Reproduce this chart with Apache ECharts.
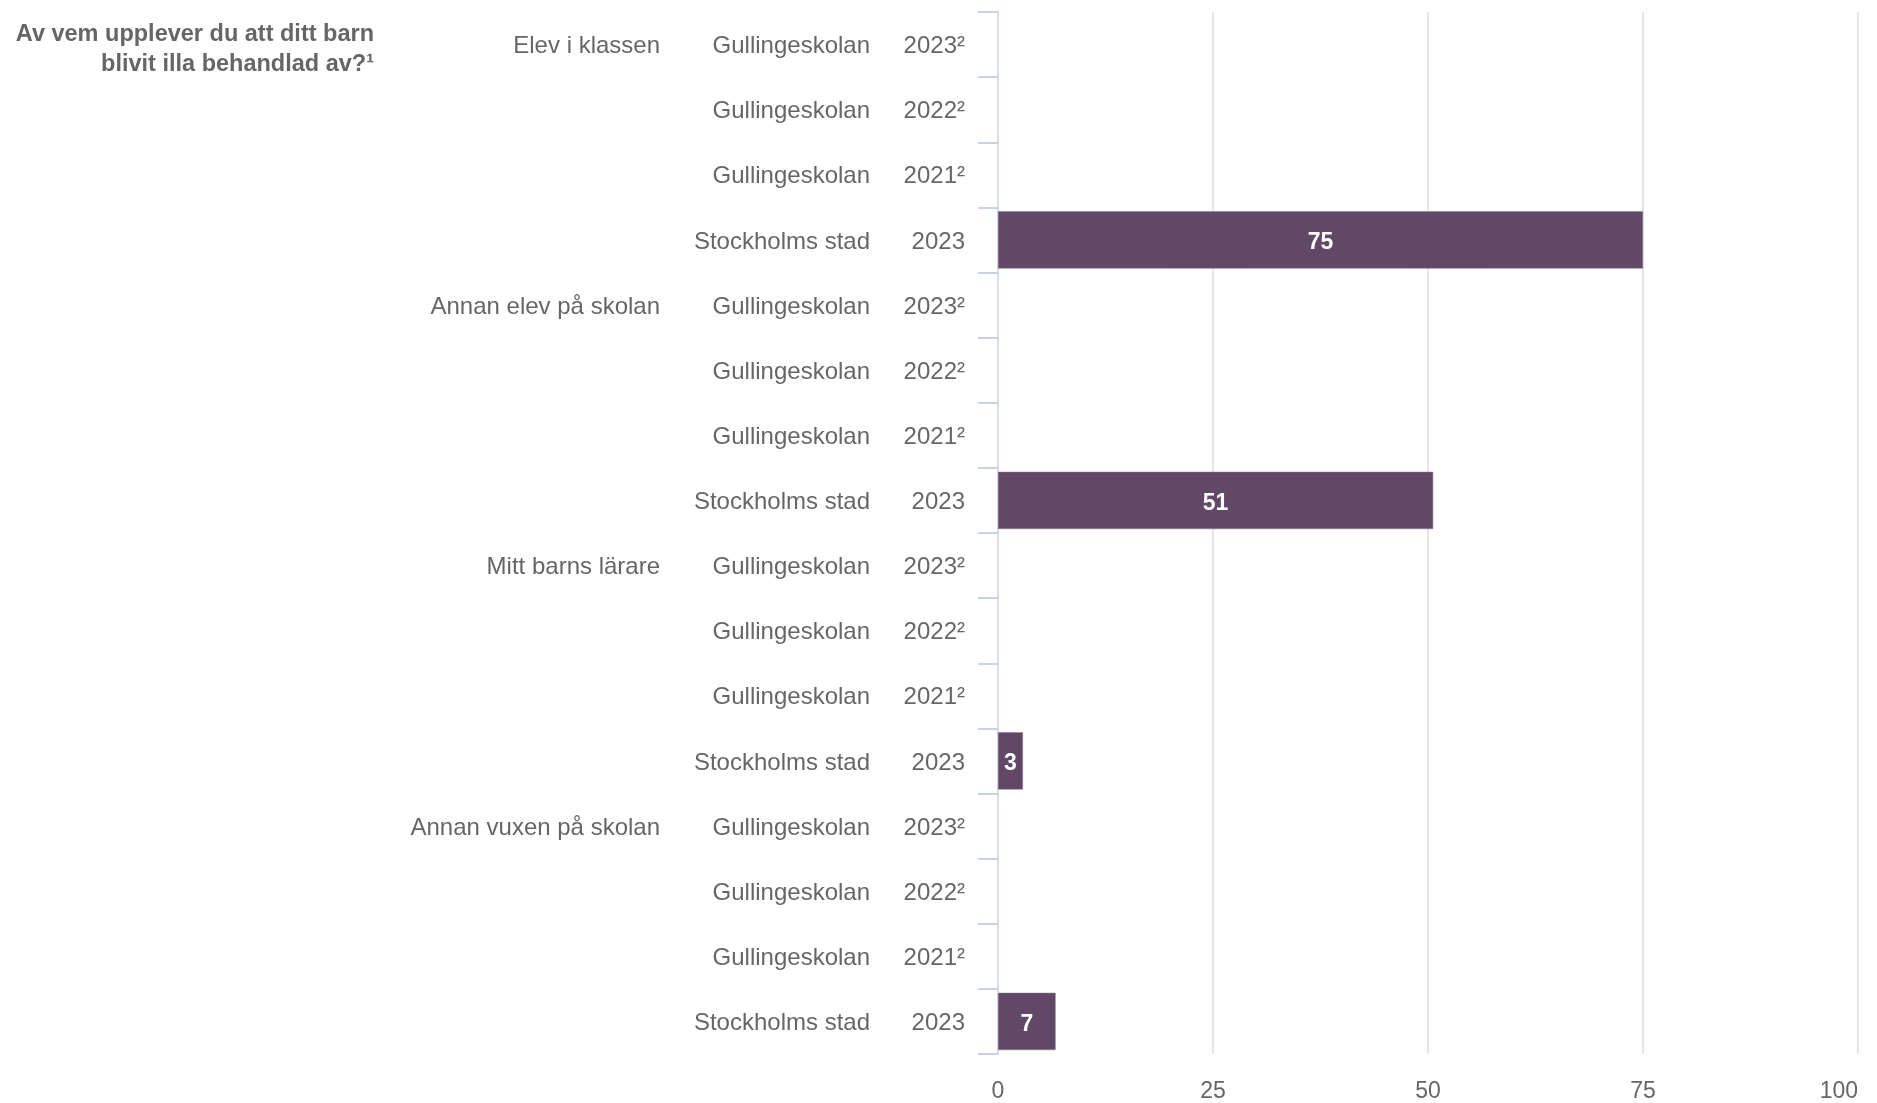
<!DOCTYPE html>
<html>
<head>
<meta charset="utf-8">
<script src="https://cdn.jsdelivr.net/npm/echarts@6/dist/echarts.min.js"></script>
<style>
  html, body { margin: 0; padding: 0; background: #fff; }
  #main { width: 1877px; height: 1103px; }
</style>
</head>
<body>
<div id="main"></div>
<script>
// frågor (grupper)
var groups = ['Elev i klassen', 'Annan elev på skolan', 'Mitt barns lärare', 'Annan vuxen på skolan'];
// rader inom varje grupp
var schools = ['Gullingeskolan', 'Gullingeskolan', 'Gullingeskolan', 'Stockholms stad'];
var years = ['2023²', '2022²', '2021²', '2023'];
// värden per grupp (null = inget värde visas)
var values = [
  [null, null, null, 75],
  [null, null, null, 50.6],
  [null, null, null, 2.9],
  [null, null, null, 6.7]
];
var xTicks = [0, 25, 50, 75, 100];

var cats = [];
var data = [];
for (var i = 0; i < groups.length; i++) {
  for (var j = 0; j < schools.length; j++) {
    cats.push((j == 0 ? groups[i] : '') + '|' + schools[j] + '|' + years[j]);
    data.push(values[i][j]);
  }
}

var font = "'Liberation Sans', Arial, sans-serif";
var myChart = echarts.init(document.getElementById('main'));

var option = {
  animation: false,
  textStyle: { fontFamily: font },
  graphic: [{
    type: 'text',
    x: 374,
    y: 20,
    style: {
      text: 'Av vem upplever du att ditt barn\nblivit illa behandlad av?¹',
      font: 'bold 23.5px ' + font,
      fill: '#666666',
      lineHeight: 30,
      align: 'right',
      verticalAlign: 'top'
    }
  }],
  grid: { left: 998, right: 19, top: 12, bottom: 44 },
  xAxis: {
    type: 'value',
    min: xTicks[0],
    max: xTicks[xTicks.length - 1],
    interval: 25,
    axisLine: { show: false },
    axisTick: { show: false },
    axisLabel: { color: '#666666', fontSize: 23, margin: 26, fontFamily: font, alignMaxLabel: 'right' },
    splitLine: { show: true, lineStyle: { color: '#e6e6e6', width: 2 } }
  },
  yAxis: {
    type: 'category',
    inverse: true,
    data: cats,
    axisLine: { show: true, lineStyle: { color: '#d9dde8', width: 2 } },
    axisTick: { show: true, inside: false, length: 20, lineStyle: { color: '#c8d2ea', width: 2 } },
    axisLabel: {
      margin: 33,
      formatter: function (v) {
        var p = v.split('|');
        return '{g|' + p[0] + '}{s|' + p[1] + '}{y|' + p[2] + '}';
      },
      rich: {
        g: { width: 400, align: 'right', color: '#666666', fontSize: 24, fontFamily: font, padding: [4, 0, 0, 0] },
        s: { width: 210, align: 'right', color: '#666666', fontSize: 24, fontFamily: font, padding: [4, 0, 0, 0] },
        y: { width: 95, align: 'right', color: '#666666', fontSize: 24, fontFamily: font, padding: [4, 0, 0, 0] }
      }
    }
  },
  series: [{
    type: 'bar',
    data: data,
    barWidth: '88%',
    itemStyle: { color: '#614866', borderColor: '#8a7a8e', borderWidth: 0.5 },
    label: {
      show: true,
      position: 'inside',
      offset: [0, 3],
      color: '#ffffff',
      fontWeight: 'bold',
      fontSize: 23,
      fontFamily: font,
      formatter: function (p) { return Math.round(p.value); }
    }
  }]
};

myChart.setOption(option);
</script>
</body>
</html>
